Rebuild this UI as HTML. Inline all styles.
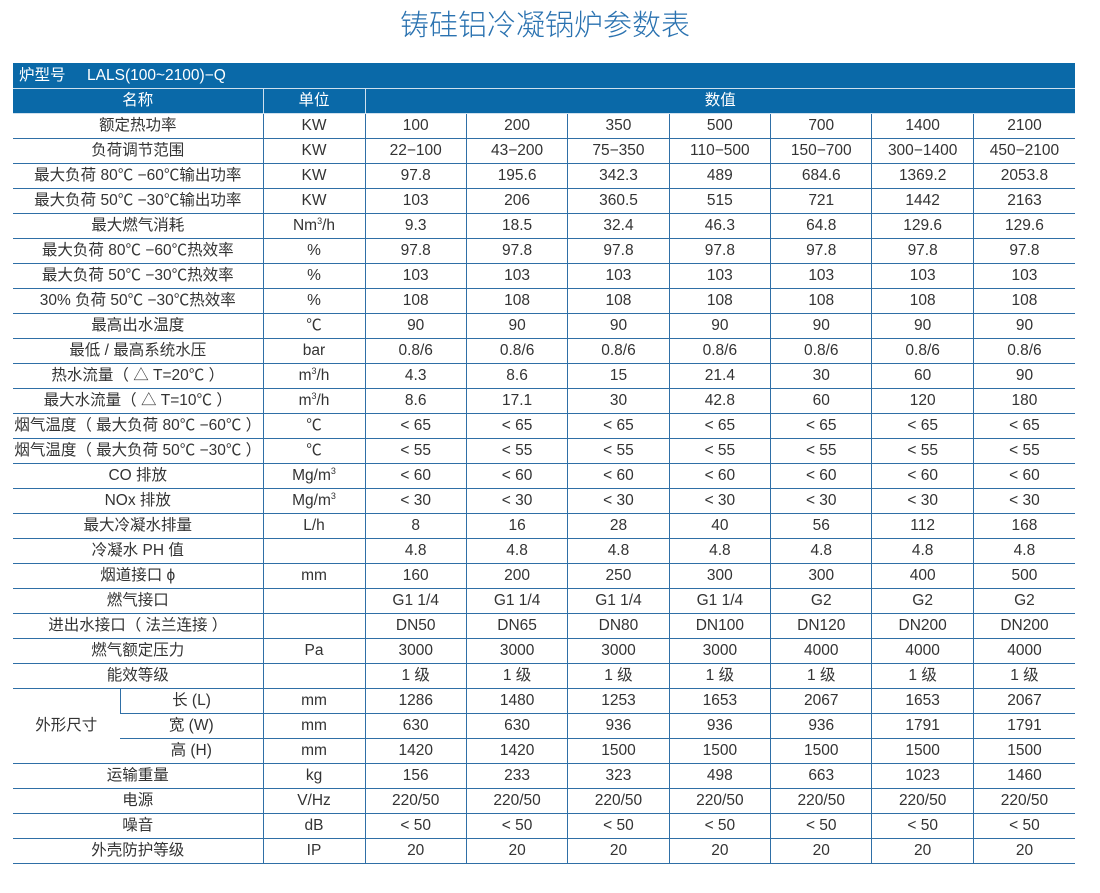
<!DOCTYPE html>
<html><head><meta charset="utf-8"><style>
body{margin:0;width:1100px;height:893px;background:#fff;font-family:"Liberation Sans","Noto Sans CJK SC",sans-serif;color:#333;overflow:hidden;position:relative}
.title{position:absolute;top:2px;left:0;width:1090px;text-align:center;font-size:29px;color:#2a72b0;font-family:"Noto Sans CJK SC",sans-serif;font-weight:300}
table{position:absolute;left:13px;top:63px;border-collapse:collapse;table-layout:fixed;width:1062px}
tr{height:25px}
td{height:24px;padding:0;text-align:center;font-size:15.5px;border-bottom:1.5px solid #2f6fa6;border-left:1.5px solid #2f6fa6;white-space:nowrap;overflow:hidden;line-height:23px}
tr td:first-child{border-left:none}
.h td{background:#0a69a8;color:#fff;border-left:1.5px solid #cfe0ee;border-bottom:1.5px solid #cfe0ee}
.h td:first-child{border-left:none}
.h1 td{text-align:left;padding-left:6px}
sup{font-size:9px;line-height:0}
</style></head><body>
<div class="title">铸硅铝冷凝锅炉参数表</div>
<table>
<colgroup><col style="width:107px"><col style="width:143px"><col style="width:102px"><col style="width:101.4px"><col style="width:101.4px"><col style="width:101.4px"><col style="width:101.4px"><col style="width:101.4px"><col style="width:101.4px"><col style="width:101.6px"></colgroup>
<tr class="h h1"><td colspan="10">炉型号&nbsp;&nbsp;&nbsp;&nbsp;&nbsp;LALS(100~2100)−Q</td></tr>
<tr class="h"><td colspan="2">名称</td><td>单位</td><td colspan="7">数值</td></tr>
<tr><td colspan="2">额定热功率</td><td>KW</td><td>100</td><td>200</td><td>350</td><td>500</td><td>700</td><td>1400</td><td>2100</td></tr>
<tr><td colspan="2">负荷调节范围</td><td>KW</td><td>22−100</td><td>43−200</td><td>75−350</td><td>110−500</td><td>150−700</td><td>300−1400</td><td>450−2100</td></tr>
<tr><td colspan="2">最大负荷 80℃ −60℃输出功率</td><td>KW</td><td>97.8</td><td>195.6</td><td>342.3</td><td>489</td><td>684.6</td><td>1369.2</td><td>2053.8</td></tr>
<tr><td colspan="2">最大负荷 50℃ −30℃输出功率</td><td>KW</td><td>103</td><td>206</td><td>360.5</td><td>515</td><td>721</td><td>1442</td><td>2163</td></tr>
<tr><td colspan="2">最大燃气消耗</td><td>Nm<sup>3</sup>/h</td><td>9.3</td><td>18.5</td><td>32.4</td><td>46.3</td><td>64.8</td><td>129.6</td><td>129.6</td></tr>
<tr><td colspan="2">最大负荷 80℃ −60℃热效率</td><td>%</td><td>97.8</td><td>97.8</td><td>97.8</td><td>97.8</td><td>97.8</td><td>97.8</td><td>97.8</td></tr>
<tr><td colspan="2">最大负荷 50℃ −30℃热效率</td><td>%</td><td>103</td><td>103</td><td>103</td><td>103</td><td>103</td><td>103</td><td>103</td></tr>
<tr><td colspan="2">30% 负荷 50℃ −30℃热效率</td><td>%</td><td>108</td><td>108</td><td>108</td><td>108</td><td>108</td><td>108</td><td>108</td></tr>
<tr><td colspan="2">最高出水温度</td><td>℃</td><td>90</td><td>90</td><td>90</td><td>90</td><td>90</td><td>90</td><td>90</td></tr>
<tr><td colspan="2">最低 / 最高系统水压</td><td>bar</td><td>0.8/6</td><td>0.8/6</td><td>0.8/6</td><td>0.8/6</td><td>0.8/6</td><td>0.8/6</td><td>0.8/6</td></tr>
<tr><td colspan="2">热水流量（ △ T=20℃ ）</td><td>m<sup>3</sup>/h</td><td>4.3</td><td>8.6</td><td>15</td><td>21.4</td><td>30</td><td>60</td><td>90</td></tr>
<tr><td colspan="2">最大水流量（ △ T=10℃ ）</td><td>m<sup>3</sup>/h</td><td>8.6</td><td>17.1</td><td>30</td><td>42.8</td><td>60</td><td>120</td><td>180</td></tr>
<tr><td colspan="2">烟气温度（ 最大负荷 80℃ −60℃ ）</td><td>℃</td><td>&lt; 65</td><td>&lt; 65</td><td>&lt; 65</td><td>&lt; 65</td><td>&lt; 65</td><td>&lt; 65</td><td>&lt; 65</td></tr>
<tr><td colspan="2">烟气温度（ 最大负荷 50℃ −30℃ ）</td><td>℃</td><td>&lt; 55</td><td>&lt; 55</td><td>&lt; 55</td><td>&lt; 55</td><td>&lt; 55</td><td>&lt; 55</td><td>&lt; 55</td></tr>
<tr><td colspan="2">CO 排放</td><td>Mg/m<sup>3</sup></td><td>&lt; 60</td><td>&lt; 60</td><td>&lt; 60</td><td>&lt; 60</td><td>&lt; 60</td><td>&lt; 60</td><td>&lt; 60</td></tr>
<tr><td colspan="2">NOx 排放</td><td>Mg/m<sup>3</sup></td><td>&lt; 30</td><td>&lt; 30</td><td>&lt; 30</td><td>&lt; 30</td><td>&lt; 30</td><td>&lt; 30</td><td>&lt; 30</td></tr>
<tr><td colspan="2">最大冷凝水排量</td><td>L/h</td><td>8</td><td>16</td><td>28</td><td>40</td><td>56</td><td>112</td><td>168</td></tr>
<tr><td colspan="2">冷凝水 PH 值</td><td></td><td>4.8</td><td>4.8</td><td>4.8</td><td>4.8</td><td>4.8</td><td>4.8</td><td>4.8</td></tr>
<tr><td colspan="2">烟道接口 ϕ</td><td>mm</td><td>160</td><td>200</td><td>250</td><td>300</td><td>300</td><td>400</td><td>500</td></tr>
<tr><td colspan="2">燃气接口</td><td></td><td>G1 1/4</td><td>G1 1/4</td><td>G1 1/4</td><td>G1 1/4</td><td>G2</td><td>G2</td><td>G2</td></tr>
<tr><td colspan="2">进出水接口（ 法兰连接 ）</td><td></td><td>DN50</td><td>DN65</td><td>DN80</td><td>DN100</td><td>DN120</td><td>DN200</td><td>DN200</td></tr>
<tr><td colspan="2">燃气额定压力</td><td>Pa</td><td>3000</td><td>3000</td><td>3000</td><td>3000</td><td>4000</td><td>4000</td><td>4000</td></tr>
<tr><td colspan="2">能效等级</td><td></td><td>1 级</td><td>1 级</td><td>1 级</td><td>1 级</td><td>1 级</td><td>1 级</td><td>1 级</td></tr>
<tr><td rowspan="3">外形尺寸</td><td>长 (L)</td><td>mm</td><td>1286</td><td>1480</td><td>1253</td><td>1653</td><td>2067</td><td>1653</td><td>2067</td></tr>
<tr><td>宽 (W)</td><td>mm</td><td>630</td><td>630</td><td>936</td><td>936</td><td>936</td><td>1791</td><td>1791</td></tr>
<tr><td>高 (H)</td><td>mm</td><td>1420</td><td>1420</td><td>1500</td><td>1500</td><td>1500</td><td>1500</td><td>1500</td></tr>
<tr><td colspan="2">运输重量</td><td>kg</td><td>156</td><td>233</td><td>323</td><td>498</td><td>663</td><td>1023</td><td>1460</td></tr>
<tr><td colspan="2">电源</td><td>V/Hz</td><td>220/50</td><td>220/50</td><td>220/50</td><td>220/50</td><td>220/50</td><td>220/50</td><td>220/50</td></tr>
<tr><td colspan="2">噪音</td><td>dB</td><td>&lt; 50</td><td>&lt; 50</td><td>&lt; 50</td><td>&lt; 50</td><td>&lt; 50</td><td>&lt; 50</td><td>&lt; 50</td></tr>
<tr><td colspan="2">外壳防护等级</td><td>IP</td><td>20</td><td>20</td><td>20</td><td>20</td><td>20</td><td>20</td><td>20</td></tr>
</table>
</body></html>
